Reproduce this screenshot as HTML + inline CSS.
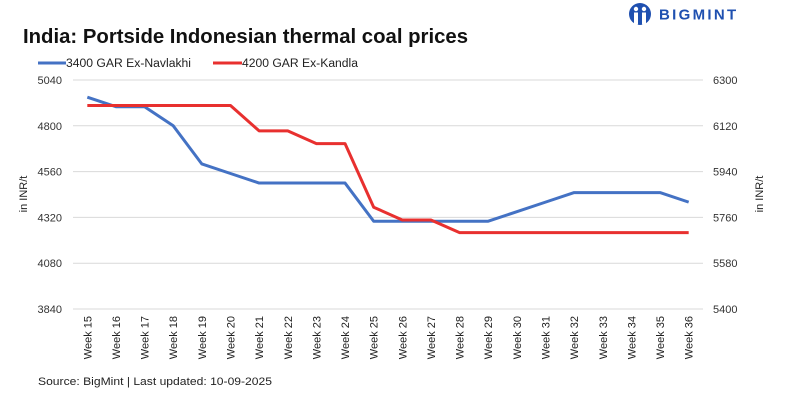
<!DOCTYPE html>
<html><head><meta charset="utf-8"><style>
body{margin:0;background:#fff;width:802px;height:400px;overflow:hidden;font-family:"Liberation Sans",sans-serif}
svg{display:block}
</style></head><body>
<svg id="c" width="802" height="400">
<g>
<circle cx="640" cy="14" r="11" fill="#1f50b0"/>
<circle cx="636" cy="9" r="2.2" fill="#fff"/><circle cx="644" cy="9" r="2.2" fill="#fff"/>
<rect x="634" y="12.5" width="4" height="12" fill="#fff"/><rect x="642" y="12.5" width="4" height="12" fill="#fff"/>
<text x="659" y="19.5" font-size="15" font-weight="bold" fill="#1f50b0" letter-spacing="2.3">BIGMINT</text>
</g>
<text x="23" y="43" font-size="20" font-weight="bold" fill="#111" textLength="445" lengthAdjust="spacingAndGlyphs">India: Portside Indonesian thermal coal prices</text>
<g>
<g><line x1="38" y1="63" x2="66" y2="63" stroke="#4472c4" stroke-width="3"/><text x="66" y="67" font-size="11.5" fill="#222" textLength="125" lengthAdjust="spacingAndGlyphs">3400 GAR Ex-Navlakhi</text></g>
<g><line x1="213" y1="63" x2="242" y2="63" stroke="#e8302f" stroke-width="3"/><text x="242" y="67" font-size="11.5" fill="#222" textLength="116" lengthAdjust="spacingAndGlyphs">4200 GAR Ex-Kandla</text></g>
</g>
<text transform="translate(27,194) rotate(-90)" text-anchor="middle" font-size="11" fill="#222">in INR/t</text>
<text transform="translate(763,194) rotate(-90)" text-anchor="middle" font-size="11" fill="#222">in INR/t</text>
<g id="grid"></g><g id="marks"></g>
<text x="38" y="385" font-size="11" fill="#222" textLength="234" lengthAdjust="spacingAndGlyphs">Source: BigMint | Last updated: 10-09-2025</text>
</svg>
<script>
const weeks=["Week 15","Week 16","Week 17","Week 18","Week 19","Week 20","Week 21","Week 22","Week 23","Week 24","Week 25","Week 26","Week 27","Week 28","Week 29","Week 30","Week 31","Week 32","Week 33","Week 34","Week 35","Week 36"];
const navlakhi=[4950,4900,4900,4800,4600,4550,4500,4500,4500,4500,4300,4300,4300,4300,4300,4350,4400,4450,4450,4450,4450,4400];
const kandla=[6200,6200,6200,6200,6200,6200,6100,6100,6050,6050,5800,5750,5750,5700,5700,5700,5700,5700,5700,5700,5700,5700];
const leftTicks=[3840,4080,4320,4560,4800,5040];
const rightTicks=[5400,5580,5760,5940,6120,6300];
const NS="http://www.w3.org/2000/svg";
const X0=73,X1=703,Y0=309,Y1=80;
const step=(X1-X0)/weeks.length;
const x=i=>X0+step*(i+0.5);
const yL=v=>Y0-(v-3840)/(5040-3840)*(Y0-Y1);
const yR=v=>Y0-(v-5400)/(6300-5400)*(Y0-Y1);
function mk(t,a,p){const e=document.createElementNS(NS,t);for(const k in a)e.setAttribute(k,a[k]);p.appendChild(e);return e;}
const g=document.getElementById('grid'),m=document.getElementById('marks');
leftTicks.forEach((v,i)=>{
 const l=mk('line',{x1:X0,x2:X1,y1:yL(v),y2:yL(v),stroke:'#d9d9d9','stroke-width':1},g);
 
 
 const t=mk('text',{x:62,y:yL(v)+4,'text-anchor':'end','font-size':11,fill:'#333'},g);t.textContent=v;
 
 
});
rightTicks.forEach(v=>{
 const t=mk('text',{x:713,y:yR(v)+4,'font-size':11,fill:'#333'},g);t.textContent=v;
 
 
});
weeks.forEach((w,i)=>{
 const t=mk('text',{transform:`translate(${x(i)+4},316) rotate(-90)`,'text-anchor':'end','font-size':11,fill:'#222'},g);t.textContent=w;
 
 
});
const p1=mk('polyline',{points:navlakhi.map((v,i)=>x(i)+','+yL(v)).join(' '),fill:'none',stroke:'#4472c4','stroke-width':3,'stroke-linejoin':'round'},m);


const p2=mk('polyline',{points:kandla.map((v,i)=>x(i)+','+yR(v)).join(' '),fill:'none',stroke:'#e8302f','stroke-width':3,'stroke-linejoin':'round'},m);


</script>
</body></html>
